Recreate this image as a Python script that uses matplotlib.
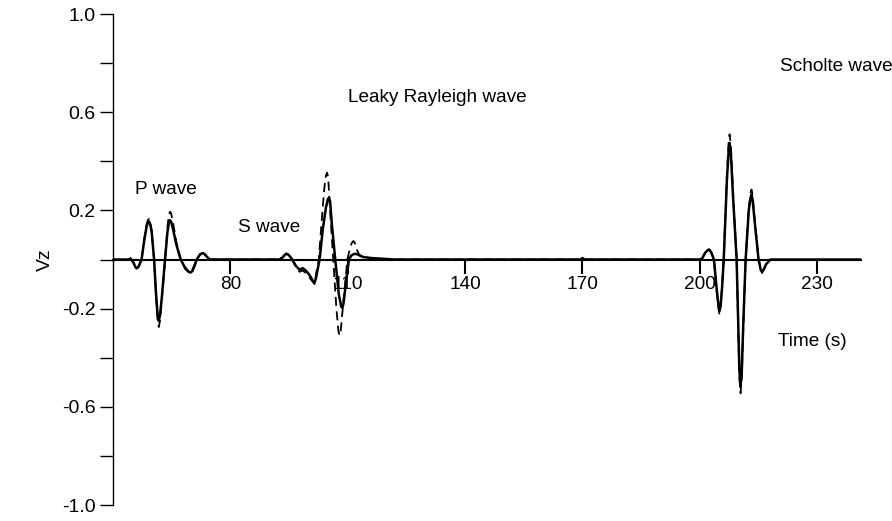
import matplotlib.pyplot as plt
from matplotlib.ticker import FixedLocator

plt.rcParams['font.family'] = ['Liberation Sans', 'DejaVu Sans']
plt.rcParams['axes.unicode_minus'] = False

# Solid trace (time in s, vertical velocity)
t_solid = [50.0, 54.0, 54.5, 55.2, 55.7, 56.0, 56.4, 56.8, 57.3, 58.0, 58.6, 58.9, 59.2, 59.5, 59.9,
           60.5, 61.0, 61.4, 61.7, 62.0, 62.5, 63.3, 63.9, 64.3, 64.6, 64.9, 65.4, 66.2, 67.3,
           68.3, 69.3, 69.8, 70.3, 70.8, 71.4, 72.2, 72.7, 73.0, 73.4, 73.9, 74.7,
           92.5, 93.3, 94.0, 94.3, 94.7, 95.2, 95.8, 96.7, 97.7, 98.5, 99.3, 100.3, 101.2, 101.5,
           101.9, 102.3, 102.8, 103.6, 104.4, 104.9, 105.2, 105.5, 105.9, 106.8, 107.7, 108.3,
           108.6, 108.9, 109.5, 110.3, 110.9, 111.5, 112.1, 112.6, 113.2, 114.0, 116.0, 118.0,
           120.0, 122.0, 169.5, 170.0, 170.5,
           200.0, 200.6, 201.4, 202.0, 202.3, 202.6, 203.0, 203.6, 204.3, 204.8, 205.0, 205.3,
           205.7, 206.1, 206.9, 207.4, 207.6, 207.9, 208.5, 209.4, 210.1, 210.4, 210.7, 211.1,
           211.7, 212.5, 213.0, 213.2, 213.5, 214.1, 215.0, 215.6, 215.9, 216.3, 216.9, 218.0,
           241.0]
v_solid = [0.0, 0.0, 0.004, -0.012, -0.03, -0.036, -0.032, -0.018, 0.0, 0.08, 0.135, 0.15, 0.155, 0.145,
           0.11, 0.0, -0.14, -0.228, -0.25, -0.228, -0.15, 0.0, 0.11, 0.152, 0.16, 0.152, 0.12,
           0.06, 0.0, -0.03, -0.05, -0.053, -0.047, -0.028, 0.0, 0.02, 0.025, 0.026, 0.023, 0.013,
           0.0,
           0.0, 0.008, 0.02, 0.023, 0.021, 0.013, 0.0, -0.025, -0.042, -0.035, -0.045, -0.065,
           -0.09, -0.095, -0.075, -0.04, 0.0, 0.12, 0.21, 0.245, 0.252, 0.235, 0.15, 0.0, -0.14,
           -0.19, -0.197, -0.18, -0.1, 0.0, 0.016, 0.022, 0.023, 0.02, 0.015, 0.01, 0.006, 0.004,
           0.002, 0.0, 0.0, 0.006, 0.0,
           0.0, 0.005, 0.028, 0.038, 0.04, 0.037, 0.025, 0.0, -0.12, -0.195, -0.21, -0.19,
           -0.11, 0.0, 0.32, 0.455, 0.475, 0.44, 0.25, 0.0, -0.45, -0.52, -0.46, -0.26,
           0.0, 0.2, 0.255, 0.265, 0.24, 0.14, 0.0, -0.045, -0.05, -0.042, -0.02, 0.0,
           0.0]

# Dashed trace
t_dashed = [54.0, 54.5, 55.2, 56.0, 56.7, 57.3, 58.0, 58.6, 58.9, 59.2, 59.5, 59.9, 60.5, 61.0,
            61.4, 61.7, 62.0, 62.5, 63.3, 63.9, 64.3, 64.6, 64.9, 65.4, 66.2, 67.3, 68.5, 69.8,
            70.6, 71.4, 72.2, 73.0, 73.8, 74.7,
            92.5, 93.3, 94.3, 95.0, 95.8, 96.7, 97.7, 98.5, 99.3, 100.3, 101.5, 102.0, 102.6,
            103.3, 104.0, 104.4, 104.7, 105.0, 105.4, 106.3, 107.1, 107.6, 107.9, 108.2, 108.9,
            109.9, 110.7, 111.2, 111.5, 111.8, 112.2, 112.9, 114.0, 116.0, 118.0, 120.0,
            200.0, 200.6, 201.4, 202.3, 203.0, 203.6, 204.3, 205.0, 205.6, 206.1, 206.9, 207.4,
            207.6, 207.9, 208.5, 209.4, 210.1, 210.4, 210.7, 211.1, 211.7, 212.5, 213.0, 213.2,
            213.5, 214.1, 215.0, 215.9, 216.9, 218.0]
v_dashed = [0.0, 0.004, -0.012, -0.038, -0.026, 0.0, 0.085, 0.145, 0.16, 0.165, 0.155, 0.115, 0.0,
            -0.15, -0.25, -0.275, -0.25, -0.16, 0.0, 0.13, 0.185, 0.195, 0.185, 0.145, 0.07, 0.0,
            -0.04, -0.055, -0.03, 0.0, 0.02, 0.025, 0.014, 0.0,
            0.0, 0.008, 0.025, 0.016, 0.0, -0.03, -0.05, -0.045, -0.055, -0.075, -0.1, -0.05, 0.0,
            0.15, 0.29, 0.34, 0.354, 0.335, 0.22, 0.0, -0.2, -0.29, -0.31, -0.29, -0.17,
            0.0, 0.055, 0.072, 0.075, 0.068, 0.045, 0.02, 0.01, 0.006, 0.003, 0.0,
            0.0, 0.005, 0.03, 0.042, 0.026, 0.0, -0.13, -0.225, -0.13, 0.0, 0.34, 0.49,
            0.51, 0.47, 0.27, 0.0, -0.48, -0.545, -0.48, -0.28, 0.0, 0.21, 0.275, 0.285,
            0.26, 0.15, 0.0, -0.055, -0.02, 0.0]

x_ticks = [80, 110, 140, 170, 200, 230]
y_major = [-1.0, -0.6, -0.2, 0.2, 0.6, 1.0]
y_minor = [-0.8, -0.4, 0.0, 0.4, 0.8]

# Wave labels: (text, time, value)
wave_labels = [('P wave', 55.5, 0.284), ('S wave', 81.9, 0.129),
               ('Leaky Rayleigh wave', 110.0, 0.66), ('Scholte wave', 220.6, 0.787),
               ('Time (s)', 219.9, -0.335)]

fig = plt.figure(figsize=(8.92, 5.21), dpi=100)
ax = fig.add_axes([0.1267, 0.0307, 0.8386, 0.9424])

ax.plot(t_solid, v_solid, color='black', linewidth=1.8, solid_joinstyle='round', zorder=3)
ax.plot(t_dashed, v_dashed, color='black', linewidth=1.3, linestyle=(0, (5, 3)), zorder=4)

ax.set_xlim(50, 241.2)
ax.set_ylim(-1.0, 1.0)

# Axis layout: x axis sits on zero, only left spine
ax.spines['top'].set_visible(False)
ax.spines['right'].set_visible(False)
ax.spines['bottom'].set_position(('data', 0))
ax.spines['bottom'].set_linewidth(1.5)
ax.spines['left'].set_linewidth(1.0)

ax.set_xticks(x_ticks)
ax.set_xticklabels([str(t) for t in x_ticks])
ax.set_yticks(y_major)
ax.set_yticklabels(['%.1f' % v for v in y_major])
ax.yaxis.set_minor_locator(FixedLocator(y_minor))

ax.tick_params(axis='x', direction='out', length=10, width=1.5, pad=2, labelsize=13.7)
ax.tick_params(axis='y', which='both', direction='out', length=9.5, width=1.0, pad=3, labelsize=14)

ax.set_ylabel('Vz', fontsize=14, labelpad=6)

for text, t, v in wave_labels:
    ax.text(t, v, text, fontsize=13.7, ha='left', va='center')

fig.savefig('out.png', dpi=100)
